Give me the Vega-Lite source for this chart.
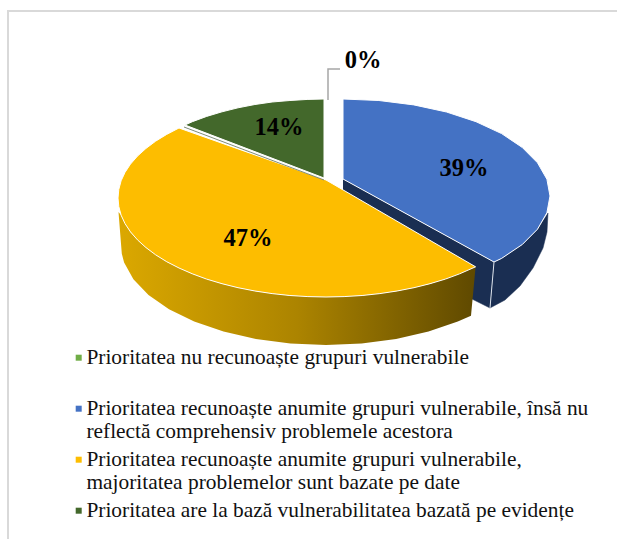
{
"$schema":"https://vega.github.io/schema/vega-lite/v6.json",
"width":617,"height":539,"padding":0,"autosize":"none",
"background":"white","view":{"stroke":null},
"datasets":{
"slices":[
{"category":"Prioritatea nu recunoaște grupuri vulnerabile|","label":"0%","value":0,"px":363,"py":61},
{"category":"Prioritatea recunoaște anumite grupuri vulnerabile, însă nu|reflectă comprehensiv problemele acestora","label":"39%","value":39,"px":464,"py":169},
{"category":"Prioritatea recunoaște anumite grupuri vulnerabile,|majoritatea problemelor sunt bazate pe date","label":"47%","value":47,"px":248,"py":239},
{"category":"Prioritatea are la bază vulnerabilitatea bazată pe evidențe","label":"14%","value":14,"px":279,"py":128}
],
"frame":[{"o":0,"px":8,"py":539},{"o":1,"px":8,"py":11},{"o":2,"px":617,"py":11}],
"blueSide":[
{"p":"inner","o":0,"px":343,"py":179},{"p":"inner","o":1,"px":494,"py":262},{"p":"inner","o":2,"px":490,"py":308},{"p":"inner","o":3,"px":472,"py":299},{"p":"inner","o":4,"px":343,"py":190},
{"p":"outer","o":0,"px":494,"py":262},{"p":"outer","o":1,"px":501.6,"py":258.4},{"p":"outer","o":2,"px":522.3,"py":244.5},{"p":"outer","o":3,"px":537.5,"py":229.2},{"p":"outer","o":4,"px":548,"py":213},{"p":"outer","o":5,"px":547,"py":232},{"p":"outer","o":6,"px":543,"py":248},{"p":"outer","o":7,"px":533,"py":268},{"p":"outer","o":8,"px":520,"py":286},{"p":"outer","o":9,"px":505,"py":300},{"p":"outer","o":10,"px":490,"py":308}
],
"yellowSide":[
{"o":0,"px":475.6,"py":266.8},{"o":1,"px":459.7,"py":273.8},{"o":2,"px":430,"py":283.7},{"o":3,"px":397.1,"py":291},{"o":4,"px":362.1,"py":295.5},{"o":5,"px":326,"py":297},{"o":6,"px":289.9,"py":295.5},{"o":7,"px":254.9,"py":291},{"o":8,"px":222,"py":283.7},{"o":9,"px":192.3,"py":273.8},{"o":10,"px":166.7,"py":261.7},{"o":11,"px":145.9,"py":247.5},{"o":12,"px":130.5,"py":231.9},{"o":13,"px":121.1,"py":215.2},{"o":14,"px":118.5,"py":212},
{"o":15,"px":121.8,"py":253.7},{"o":16,"px":124.1,"py":262.4},{"o":17,"px":133.4,"py":279.2},{"o":18,"px":148.5,"py":295},{"o":19,"px":169,"py":309.3},{"o":20,"px":194.2,"py":321.6},{"o":21,"px":223.5,"py":331.6},{"o":22,"px":255.9,"py":339},{"o":23,"px":290.4,"py":343.5},{"o":24,"px":326,"py":345},{"o":25,"px":361.6,"py":343.5},{"o":26,"px":396.1,"py":339},{"o":27,"px":428.5,"py":331.6},{"o":28,"px":457.8,"py":321.6},{"o":29,"px":471,"py":315.7}
],
"tops":[
{"c":1,"o":0,"px":343,"py":179},{"c":1,"o":1,"px":343,"py":99},{"c":1,"o":2,"px":378.9,"py":100.5},{"c":1,"o":3,"px":413.8,"py":104.9},{"c":1,"o":4,"px":446.5,"py":112},{"c":1,"o":5,"px":476,"py":121.7},{"c":1,"o":6,"px":501.6,"py":133.6},{"c":1,"o":7,"px":522.3,"py":147.5},{"c":1,"o":8,"px":537.5,"py":162.8},{"c":1,"o":9,"px":546.9,"py":179.2},{"c":1,"o":10,"px":550,"py":196},{"c":1,"o":11,"px":546.9,"py":212.8},{"c":1,"o":12,"px":537.5,"py":229.2},{"c":1,"o":13,"px":522.3,"py":244.5},{"c":1,"o":14,"px":501.6,"py":258.4},{"c":1,"o":15,"px":494,"py":262},{"c":1,"o":16,"px":343,"py":179},
{"c":2,"o":0,"px":326,"py":180},{"c":2,"o":1,"px":475.6,"py":266.8},{"c":2,"o":2,"px":459.7,"py":273.8},{"c":2,"o":3,"px":445.4,"py":279.1},{"c":2,"o":4,"px":430,"py":283.7},{"c":2,"o":5,"px":414,"py":287.7},{"c":2,"o":6,"px":397.1,"py":291},{"c":2,"o":7,"px":379.9,"py":293.6},{"c":2,"o":8,"px":362.1,"py":295.5},{"c":2,"o":9,"px":344.1,"py":296.6},{"c":2,"o":10,"px":326,"py":297},{"c":2,"o":11,"px":307.9,"py":296.6},{"c":2,"o":12,"px":289.9,"py":295.5},{"c":2,"o":13,"px":272.1,"py":293.6},{"c":2,"o":14,"px":254.9,"py":291},{"c":2,"o":15,"px":238,"py":287.7},{"c":2,"o":16,"px":222,"py":283.7},{"c":2,"o":17,"px":206.6,"py":279.1},{"c":2,"o":18,"px":192.3,"py":273.8},{"c":2,"o":19,"px":179,"py":268},{"c":2,"o":20,"px":166.7,"py":261.7},{"c":2,"o":21,"px":155.6,"py":254.8},{"c":2,"o":22,"px":145.9,"py":247.5},{"c":2,"o":23,"px":137.5,"py":239.9},{"c":2,"o":24,"px":130.5,"py":231.9},{"c":2,"o":25,"px":125,"py":223.6},{"c":2,"o":26,"px":121.1,"py":215.2},{"c":2,"o":27,"px":118.8,"py":206.6},{"c":2,"o":28,"px":118,"py":198},{"c":2,"o":29,"px":118.8,"py":189.4},{"c":2,"o":30,"px":121.1,"py":180.8},{"c":2,"o":31,"px":125,"py":172.4},{"c":2,"o":32,"px":130.5,"py":164.1},{"c":2,"o":33,"px":137.5,"py":156.1},{"c":2,"o":34,"px":145.9,"py":148.5},{"c":2,"o":35,"px":155.6,"py":141.2},{"c":2,"o":36,"px":166.7,"py":134.4},{"c":2,"o":37,"px":179,"py":128},{"c":2,"o":38,"px":326,"py":180},
{"c":3,"o":0,"px":324,"py":178},{"c":3,"o":1,"px":324,"py":99},{"c":3,"o":2,"px":307.9,"py":99.4},{"c":3,"o":3,"px":289.9,"py":100.5},{"c":3,"o":4,"px":272.1,"py":102},{"c":3,"o":5,"px":254.9,"py":104.5},{"c":3,"o":6,"px":238,"py":107.8},{"c":3,"o":7,"px":222,"py":111.8},{"c":3,"o":8,"px":206.7,"py":116.4},{"c":3,"o":9,"px":192.3,"py":121.7},{"c":3,"o":10,"px":185,"py":125},{"c":3,"o":11,"px":324,"py":178}
],
"zero":[{"o":0,"px":184,"py":127},{"o":1,"px":324,"py":180}],
"leader":[{"o":0,"px":328,"py":100},{"o":1,"px":328,"py":69},{"o":2,"px":340,"py":69}],
"edge":[{"o":0,"px":494,"py":262},{"o":1,"px":490,"py":308}]
},
"layer":[
{"data":{"name":"frame"},"mark":{"type":"line","stroke":"#D9D9D9","strokeWidth":2},
 "encoding":{"x":{"field":"px","type":"quantitative","scale":{"domain":[0,617],"nice":false,"zero":false},"axis":null},"y":{"field":"py","type":"quantitative","scale":{"domain":[539,0],"nice":false,"zero":false},"axis":null},"order":{"field":"o"}}},
{"data":{"name":"blueSide"},"mark":{"type":"line","fill":"#1A2E52","stroke":"#1A2E52","strokeWidth":0.5},
 "encoding":{"x":{"field":"px","type":"quantitative"},"y":{"field":"py","type":"quantitative"},"detail":{"field":"p"},"order":{"field":"o"}}},
{"data":{"name":"yellowSide"},"mark":{"type":"line","strokeWidth":0,"fill":{"gradient":"linear","x1":0,"x2":1,"y1":0,"y2":0,"stops":[{"offset":0,"color":"#DBA800"},{"offset":0.5,"color":"#AC8400"},{"offset":1,"color":"#5F4900"}]}},
 "encoding":{"x":{"field":"px","type":"quantitative"},"y":{"field":"py","type":"quantitative"},"order":{"field":"o"}}},
{"data":{"name":"tops"},
 "transform":[
 {"lookup":"c","from":{"data":{"values":[{"k":1,"category":"Prioritatea recunoaște anumite grupuri vulnerabile, însă nu|reflectă comprehensiv problemele acestora"},{"k":2,"category":"Prioritatea recunoaște anumite grupuri vulnerabile,|majoritatea problemelor sunt bazate pe date"},{"k":3,"category":"Prioritatea are la bază vulnerabilitatea bazată pe evidențe"}]},"key":"k","fields":["category"]}}],
 "mark":{"type":"line","stroke":"#FFFFFF","strokeWidth":1},
 "encoding":{"x":{"field":"px","type":"quantitative"},"y":{"field":"py","type":"quantitative"},"order":{"field":"o"},
  "fill":{"field":"category","type":"nominal",
   "scale":{"domain":["Prioritatea nu recunoaște grupuri vulnerabile|","Prioritatea recunoaște anumite grupuri vulnerabile, însă nu|reflectă comprehensiv problemele acestora","Prioritatea recunoaște anumite grupuri vulnerabile,|majoritatea problemelor sunt bazate pe date","Prioritatea are la bază vulnerabilitatea bazată pe evidențe"],"range":["#70AD47","#4472C4","#FDBD00","#43682B"]},
   "legend":{"orient":"none","legendX":68,"legendY":347,"title":null,"padding":0,"symbolType":"square","symbolSize":36,"symbolStrokeWidth":0,"symbolOpacity":1,"labelExpr":"split(datum.label,'|')","labelFont":"Liberation Serif","labelFontSize":21.4,"labelColor":"#111111","labelLimit":600,"labelLineHeight":25,"labelOffset":-3,"rowPadding":5,"values":["Prioritatea nu recunoaște grupuri vulnerabile|","Prioritatea recunoaște anumite grupuri vulnerabile, însă nu|reflectă comprehensiv problemele acestora","Prioritatea recunoaște anumite grupuri vulnerabile,|majoritatea problemelor sunt bazate pe date","Prioritatea are la bază vulnerabilitatea bazată pe evidențe"]}}}},
{"data":{"name":"zero"},"mark":{"type":"line","stroke":"#7F8C78","strokeWidth":1},
 "encoding":{"x":{"field":"px","type":"quantitative"},"y":{"field":"py","type":"quantitative"},"order":{"field":"o"}}},
{"data":{"name":"leader"},"mark":{"type":"line","stroke":"#A6A6A6","strokeWidth":1.5},
 "encoding":{"x":{"field":"px","type":"quantitative"},"y":{"field":"py","type":"quantitative"},"order":{"field":"o"}}},
{"data":{"name":"edge"},"mark":{"type":"line","stroke":"#DDE3EC","strokeWidth":1},
 "encoding":{"x":{"field":"px","type":"quantitative"},"y":{"field":"py","type":"quantitative"},"order":{"field":"o"}}},
{"data":{"name":"slices"},"mark":{"type":"text","font":"Liberation Serif","fontWeight":"bold","fontSize":24.5,"color":"#000000","align":"center","baseline":"middle"},
 "encoding":{"x":{"field":"px","type":"quantitative"},"y":{"field":"py","type":"quantitative"},"text":{"field":"label"}}}
]
}
